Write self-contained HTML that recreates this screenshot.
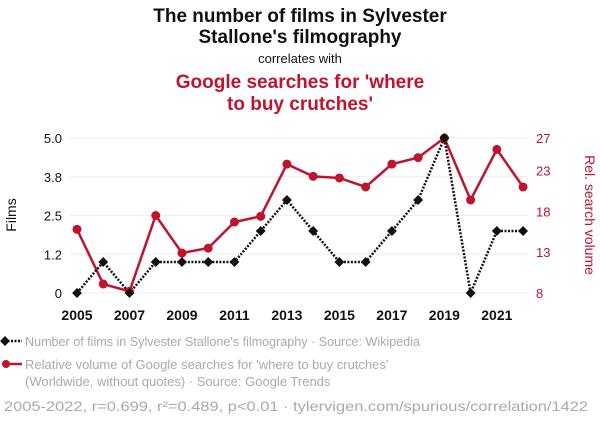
<!DOCTYPE html>
<html><head><meta charset="utf-8"><style>
body{margin:0;background:#fff;font-family:"Liberation Sans",sans-serif}
svg text{font-family:"Liberation Sans",sans-serif}
</style></head><body>
<svg width="600" height="420" xmlns="http://www.w3.org/2000/svg">
<text x="300" y="22" text-anchor="middle" font-size="19" font-weight="bold" fill="#111">The number of films in Sylvester</text>
<text x="300" y="43" text-anchor="middle" font-size="19" font-weight="bold" fill="#111">Stallone's filmography</text>
<text x="300" y="63" text-anchor="middle" font-size="13" fill="#111">correlates with</text>
<text x="300" y="88" text-anchor="middle" font-size="19" font-weight="bold" fill="#c0142e">Google searches for 'where</text>
<text x="300" y="110" text-anchor="middle" font-size="19" font-weight="bold" fill="#c0142e">to buy crutches'</text>
<g id="grid"></g><g id="axes"></g><g id="marks"></g>
<text transform="translate(16,215) rotate(-90)" text-anchor="middle" font-size="14" fill="#111">Films</text>
<text transform="translate(585,215) rotate(90)" text-anchor="middle" font-size="14" fill="#c0142e">Rel. search volume</text>
<g>
<line x1="4" y1="341" x2="22" y2="341" stroke="#111" stroke-width="2.5" stroke-dasharray="2,1.5"/>
<rect x="1.5" y="337.5" width="7" height="7" fill="#111" transform="rotate(45 5 341)"/>
<text x="25" y="346" font-size="13" fill="#aaa" textLength="395" lengthAdjust="spacingAndGlyphs">Number of films in Sylvester Stallone's filmography · Source: Wikipedia</text></g>
<g>
<line x1="4" y1="364" x2="22" y2="364" stroke="#c0142e" stroke-width="2.5"/>
<circle cx="6" cy="364" r="4" fill="#c0142e"/>
<text x="25" y="369" font-size="13" fill="#aaa">Relative volume of Google searches for 'where to buy crutches'</text>
<text x="25" y="386" font-size="13" fill="#aaa">(Worldwide, without quotes) · Source: Google Trends</text></g>
<text x="4" y="411" font-size="14" fill="#aaa" textLength="584" lengthAdjust="spacingAndGlyphs">2005-2022, r=0.699, r²=0.489, p&lt;0.01 · tylervigen.com/spurious/correlation/1422</text>
</svg>
<script>
const years=[2005,2006,2007,2008,2009,2010,2011,2012,2013,2014,2015,2016,2017,2018,2019,2020,2021,2022];
const films=[0,1,0,1,1,1,1,2,3,2,1,1,2,3,5,0,2,2];
const searches=[15.8,9.1,8.2,17.5,12.9,13.5,16.7,17.4,23.8,22.3,22.1,21.0,23.8,24.6,27,19.4,25.6,21.0];
const leftTicks=[0,1.25,2.5,3.75,5];
const leftLabels=["0","1.2","2.5","3.8","5.0"];
const rightTicks=[8,13,18,23,27];
const xTicks=[2005,2007,2009,2011,2013,2015,2017,2019,2021];
const NS="http://www.w3.org/2000/svg";
const x=v=>77+(v-2005)*26.24;
const yl=v=>293-v/5*155;
const yr=v=>293-(v-8)/19*155;
function mk(t,a,p){const e=document.createElementNS(NS,t);for(const k in a)e.setAttribute(k,a[k]);document.getElementById(p).appendChild(e);return e;}
leftTicks.forEach((t,i)=>{
 const g=mk('line',{x1:70,x2:528,y1:yl(t),y2:yl(t),stroke:'#eee','stroke-width':1},'grid');
 
 
 const l=mk('text',{x:62,y:yl(t)+5,'text-anchor':'end','font-size':13,fill:'#111'},'axes');l.textContent=leftLabels[i];
 
 
});
rightTicks.forEach(t=>{
 const l=mk('text',{x:536,y:yr(t)+5,'font-size':13,fill:'#c0142e'},'axes');l.textContent=t;
 
 
});
xTicks.forEach(t=>{
 const l=mk('text',{x:x(t),y:320,'text-anchor':'middle','font-size':14,'font-weight':'bold',fill:'#111'},'axes');l.textContent=t;
 
 
});
const rl=mk('polyline',{points:years.map((y,i)=>x(y)+','+yr(searches[i])).join(' '),fill:'none',stroke:'#c0142e','stroke-width':2.5},'marks');


const fl=mk('polyline',{points:years.map((y,i)=>x(y)+','+yl(films[i])).join(' '),fill:'none',stroke:'#111','stroke-width':2.5,'stroke-dasharray':'2,1.5'},'marks');


years.forEach((y,i)=>{
 const c=mk('circle',{cx:x(y),cy:yr(searches[i]),r:4.5,fill:'#c0142e'},'marks');
 
 
});
years.forEach((y,i)=>{
 const cx=x(y),cy=yl(films[i]);
 const d=mk('rect',{x:cx-3.5,y:cy-3.5,width:7,height:7,fill:'#111',transform:`rotate(45 ${cx} ${cy})`},'marks');
 
 
});
</script>
</body></html>
